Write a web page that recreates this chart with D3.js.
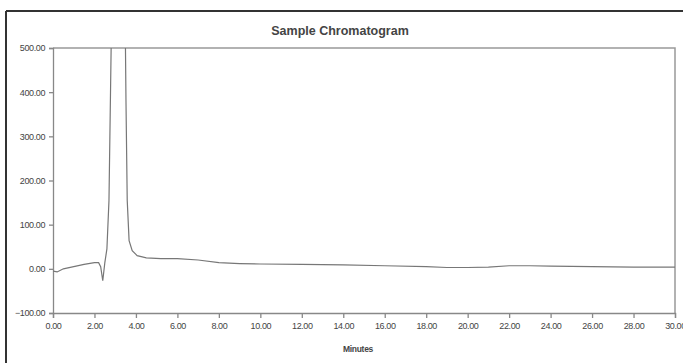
<!DOCTYPE html>
<html>
<head>
<meta charset="utf-8">
<script src="https://cdn.jsdelivr.net/npm/d3@7"></script>
<style>
  body { margin: 0; background: #fff; }
  svg { display: block; }
  text { font-family: "Liberation Sans", Arial, sans-serif; fill: #444; }
</style>
</head>
<body>
<div id="chart"></div>
<script>
// trace (minutes, response); peak is clipped at the top of the plot
const times = [0, 0.2, 0.5, 1.0, 1.5, 2.0, 2.2, 2.3, 2.4, 2.5, 2.6, 2.7, 2.78, 2.84, 3.47, 3.52, 3.58, 3.67, 3.82, 4.06, 4.5, 5.2, 6, 7, 8, 9, 10, 12, 14, 16, 18, 19, 20, 21, 22, 23, 24, 26, 28, 30];
const values = [-5, -7, 0, 5, 10, 14, 14, 5, -27, 14, 45, 155, 420, 620, 620, 380, 155, 64, 41, 30, 25, 23, 23, 20, 14, 12, 11, 10, 9, 7, 5, 3, 3, 4, 7, 7, 6, 5, 4, 4];

const xTicks = d3.range(0, 31, 2);
const yTicks = [-100, 0, 100, 200, 300, 400, 500];
const title = "Sample Chromatogram";
const xTitle = "Minutes";

const width = 683, height = 363;
const m = { left: 53, top: 48, right: 8, bottom: 50 };

const svg = d3.select("#chart").append("svg").attr("width", width).attr("height", height);

// scanned page border (left + top only)
svg.append("line").attr("x1", 6).attr("x2", 6).attr("y1", 11).attr("y2", height)
  .attr("stroke", "#333").attr("stroke-width", 2);
svg.append("line").attr("x1", 6).attr("x2", width).attr("y1", 11).attr("y2", 11)
  .attr("stroke", "#333").attr("stroke-width", 2);

const x = d3.scaleLinear().domain([0, 30]).range([m.left, width - m.right]);
const y = d3.scaleLinear().domain([-100, 500]).range([height - m.bottom, m.top]);

svg.append("defs").append("clipPath").attr("id", "plotclip")
  .append("rect").attr("x", m.left).attr("y", m.top)
  .attr("width", x(30) - m.left).attr("height", y(-100) - m.top);

// plot frame (top and right)
svg.append("path")
  .attr("d", `M${m.left},${y(500)}H${x(30)}V${y(-100)}`)
  .attr("fill", "none").attr("stroke", "#999").attr("stroke-width", 1.5);

// minor ticks
const gx = svg.append("g").attr("transform", `translate(0,${y(-100)})`);
gx.call(d3.axisBottom(x).tickValues(d3.range(0, 30.01, 0.5)).tickSize(3).tickFormat(""));
gx.call(d3.axisBottom(x).tickValues(xTicks).tickSize(5).tickFormat(d3.format(".2f")))
gx.selectAll(".domain, line").attr("stroke", "#888").attr("stroke-width", 1.3);
gx.selectAll("text").attr("font-size", 9).attr("letter-spacing", -0.4).attr("dy", "0.9em");

const gy = svg.append("g").attr("transform", `translate(${m.left},0)`);
gy.call(d3.axisLeft(y).tickValues(d3.range(-100, 500.01, 20)).tickSize(2).tickFormat(""));
gy.call(d3.axisLeft(y).tickValues(yTicks).tickSize(4).tickFormat(d3.format(".2f")));
gy.selectAll(".domain, line").attr("stroke", "#888").attr("stroke-width", 1.3);
gy.selectAll("text").attr("font-size", 9).attr("letter-spacing", -0.4).attr("dx", "-1");

// trace
const line = d3.line().x((d, i) => x(times[i])).y(d => y(d));
svg.append("path")
  .datum(values)
  .attr("clip-path", "url(#plotclip)")
  .attr("d", line)
  .attr("fill", "none")
  .attr("stroke", "#777")
  .attr("stroke-width", 1.2);

svg.append("text").attr("x", 340).attr("y", 35).attr("text-anchor", "middle")
  .attr("font-size", 12.5).attr("font-weight", "bold").attr("fill", "#333").text(title);

svg.append("text").attr("x", 358).attr("y", 352).attr("text-anchor", "middle")
  .attr("font-size", 8.5).attr("font-weight", "bold").attr("letter-spacing", -0.3).text(xTitle);
</script>
</body>
</html>
